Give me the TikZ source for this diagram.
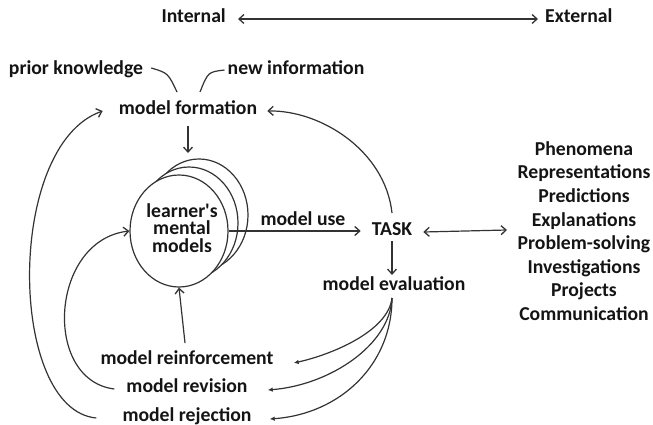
\documentclass[tikz,border=0pt]{standalone}
\usepackage{fontspec}
\setmainfont{Carlito}
\usetikzlibrary{arrows.meta,shapes.geometric}
\definecolor{ink}{HTML}{141414}
\definecolor{wire}{HTML}{333333}
\begin{document}
\begin{tikzpicture}[x=1pt,y=-1pt,
  lbl/.style={inner sep=0pt,text=ink,font=\fontsize{19.7}{23.6}\selectfont\bfseries,text height=13pt,text depth=4pt},
  tight/.style={inner sep=0pt,text=ink,font=\fontsize{19.7}{17.5}\selectfont\bfseries,text height=13pt,text depth=0pt},
  free/.style={inner sep=0pt,text=ink},
  wirestyle/.style={draw=wire,line width=1.2pt},
  barb/.style={wirestyle,-{Straight Barb[length=5pt,width=9pt,line width=1.3pt]}},
  dbarb/.style={wirestyle,{Straight Barb[length=5pt,width=9pt,line width=1.3pt]}-{Straight Barb[length=5pt,width=9pt,line width=1.3pt]}},
  small/.style={wirestyle,-{Latex[length=5pt,width=4.5pt]}},
  plain/.style={wirestyle}]
\useasboundingbox (0,0) rectangle (653,425);
% top axis
\node[lbl,anchor=east] (int) at (226,18) {Internal};
\node[lbl,anchor=west] (ext) at (545,18) {External};
\draw[dbarb] ([xshift=-7pt,yshift=-1pt]ext.west) -- ([xshift=12pt,yshift=-1pt]int.east);
% inputs
\node[lbl] (pk) at (76,70) {prior knowledge};
\node[lbl] (ni) at (296,70) {new information};
\node[lbl] (mf) at (188,110) {model formation};
\coordinate (pkend) at (177,92);
\coordinate (niend) at (200,92);
\draw[plain] ([xshift=8pt,yshift=2pt]pk.east) .. controls (168,73) .. (pkend);
\draw[plain] ([xshift=-3pt]ni.west) .. controls (208,72) .. (niend);
% mental models
\draw[wirestyle,fill=white] (199,215) ellipse [x radius=49pt, y radius=56pt];
\draw[wirestyle,fill=white] (189,223) ellipse [x radius=49pt, y radius=56pt];
\node[wirestyle,fill=white,shape=ellipse,minimum width=98pt,minimum height=112pt,inner sep=0pt] (mm) at (179,231) {};
\node[tight,anchor=base] (mmt1) at (182,217) {learner\textquotesingle s};
\node[tight,anchor=base] (mmt2) at (182,234.5) {mental};
\node[tight,anchor=base] (mmt3) at (182,252) {models};
\coordinate (mfin) at (188,153);
\draw[barb] (188,126) -- (mfin);
% task
\node[lbl] (task) at (392,231) {TASK};
\node[lbl] (mu) at (303,221) {model use};
\draw[barb] (mm.east) -- ([xshift=-11pt]task.west);
\node[free,align=center,font=\fontsize{19.7}{23.6}\selectfont\bfseries] (list) at (584,231) {Phenomena\\Representations\\Predictions\\Explanations\\Problem-solving\\Investigations\\Projects\\Communication};
\draw[dbarb] ([xshift=11pt,yshift=-1pt]task.east) -- (507,230);
\node[lbl] (me) at (394,286) {model evaluation};
\draw[barb] (392,241) -- (392,275);
\draw[barb] (392,213) .. controls (385,150) and (320,110) .. ([xshift=10pt,yshift=-1pt]mf.east);
% outcomes
\node[lbl] (mrf) at (187,360) {model reinforcement};
\node[lbl] (mrv) at (187,388) {model revision};
\node[lbl] (mrj) at (187,417) {model rejection};
\coordinate (mes) at (392,298);
\draw[small] (mes) .. controls (388,332) and (330,355) .. ([xshift=20pt,yshift=-3pt]mrf.east);
\draw[small] (mes) .. controls (390,345) and (330,385) .. ([xshift=20pt,yshift=-2pt]mrv.east);
\draw[small] (mes) .. controls (392,365) and (340,414) .. ([xshift=18pt,yshift=-2pt]mrj.east);
\draw[barb] (185,343) -- (mm.south);
\draw[barb] ([xshift=-12pt,yshift=-1pt]mrv.west) .. controls (42,380) and (50,240) .. (mm.west);
\draw[barb] ([xshift=-26pt,yshift=-1pt]mrj.west) .. controls (8,410) and (5,145) .. ([xshift=-16pt,yshift=-1pt]mf.west);
\end{tikzpicture}
\end{document}
